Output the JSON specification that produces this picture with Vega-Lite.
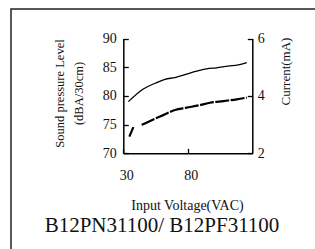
{
  "$schema": "https://vega.github.io/schema/vega-lite/v6.json",
  "autosize": {"type": "none"},
  "padding": {"left": 11, "top": 9, "right": 0, "bottom": 0},
  "width": 310,
  "height": 245,
  "background": "white",
  "config": {
    "view": {"stroke": "#222", "strokeWidth": 1.5},
    "font": "Liberation Serif",
    "axis": {"labelFont": "Liberation Serif", "titleFont": "Liberation Serif", "labelColor": "#111", "titleColor": "#111", "domainColor": "black", "tickColor": "black", "grid": false, "titleFontWeight": "normal"}
  },
  "title": {"text": "B12PN31100/ B12PF31100", "orient": "top", "anchor": "middle", "frame": "bounds", "font": "Liberation Serif", "fontSize": 21, "fontWeight": "normal", "color": "#111", "baseline": "middle", "dx": -4, "dy": 242},
  "datasets": {
    "spl": [
      {"v": 33.9, "db": 79.0},
      {"v": 45.5, "db": 81.2},
      {"v": 54.6, "db": 82.2},
      {"v": 62.3, "db": 82.9},
      {"v": 70.1, "db": 83.2},
      {"v": 79.1, "db": 83.8},
      {"v": 86.9, "db": 84.3},
      {"v": 94.7, "db": 84.7},
      {"v": 102.4, "db": 84.9},
      {"v": 111.4, "db": 85.2},
      {"v": 119.1, "db": 85.4},
      {"v": 125.7, "db": 85.8}
    ],
    "cur": [
      {"v": 34.7, "ma": 2.58, "seg": "a"},
      {"v": 37.8, "ma": 2.91, "seg": "a"},
      {"v": 44.3, "ma": 2.99, "seg": "b"},
      {"v": 53.3, "ma": 3.18, "seg": "b"},
      {"v": 61.0, "ma": 3.33, "seg": "b"},
      {"v": 70.1, "ma": 3.51, "seg": "b"},
      {"v": 79.1, "ma": 3.59, "seg": "b"},
      {"v": 89.5, "ma": 3.68, "seg": "b"},
      {"v": 97.2, "ma": 3.76, "seg": "b"},
      {"v": 107.5, "ma": 3.82, "seg": "b"},
      {"v": 117.9, "ma": 3.88, "seg": "b"},
      {"v": 125.7, "ma": 3.94, "seg": "b"}
    ]
  },
  "layer": [
    {
      "data": {"name": "spl"},
      "mark": {"type": "line", "color": "black", "strokeWidth": 1.3, "interpolate": "monotone"},
      "encoding": {
        "x": {"field": "v", "type": "quantitative", "scale": {"domain": [30, 130], "range": [112.3, 241.3], "nice": false, "zero": false},
          "axis": {"values": [30, 80], "orient": "bottom", "offset": -100.7, "tickSize": -5, "labelPadding": 20, "labelOffset": 3, "labelFlush": false, "labelFontSize": 14, "title": "Input Voltage(VAC)", "titleFontSize": 14, "titleX": 176, "titleY": 52, "titleBaseline": "middle", "titleAnchor": null, "domainWidth": 1.5, "tickWidth": 1.3}},
        "y": {"field": "db", "type": "quantitative", "scale": {"domain": [70, 90], "range": [144.3, 29.5], "nice": false, "zero": false},
          "axis": {"values": [70, 75, 80, 85, 90], "orient": "left", "offset": -112.3, "tickSize": -5, "labelPadding": 12, "labelFontSize": 14, "title": ["Sound pressure Level", "(dBA/30cm)"], "titleFontSize": 12.5, "titleLineHeight": 19, "titleX": -64, "titleY": 84, "titleAngle": -90, "titleBaseline": "middle", "titleAnchor": null, "domainWidth": 1.5, "tickWidth": 1.3}}
      }
    },
    {
      "data": {"name": "cur"},
      "mark": {"type": "line", "color": "black", "strokeWidth": 2.2, "strokeDash": [14, 1.5], "interpolate": "monotone"},
      "encoding": {
        "x": {"field": "v", "type": "quantitative"},
        "detail": {"field": "seg"},
        "y": {"field": "ma", "type": "quantitative", "scale": {"domain": [2, 6], "range": [144.3, 29.5], "nice": false, "zero": false},
          "axis": {"values": [2, 4, 6], "orient": "right", "offset": -68.7, "tickSize": -5, "labelPadding": 10, "labelFontSize": 14, "title": "Current(mA)", "titleFontSize": 13, "titleX": 33, "titleY": 62, "titleAngle": -90, "titleBaseline": "middle", "titleAnchor": null, "domainWidth": 1.5, "tickWidth": 1.3}}
      }
    }
  ],
  "resolve": {"scale": {"y": "independent"}}
}
